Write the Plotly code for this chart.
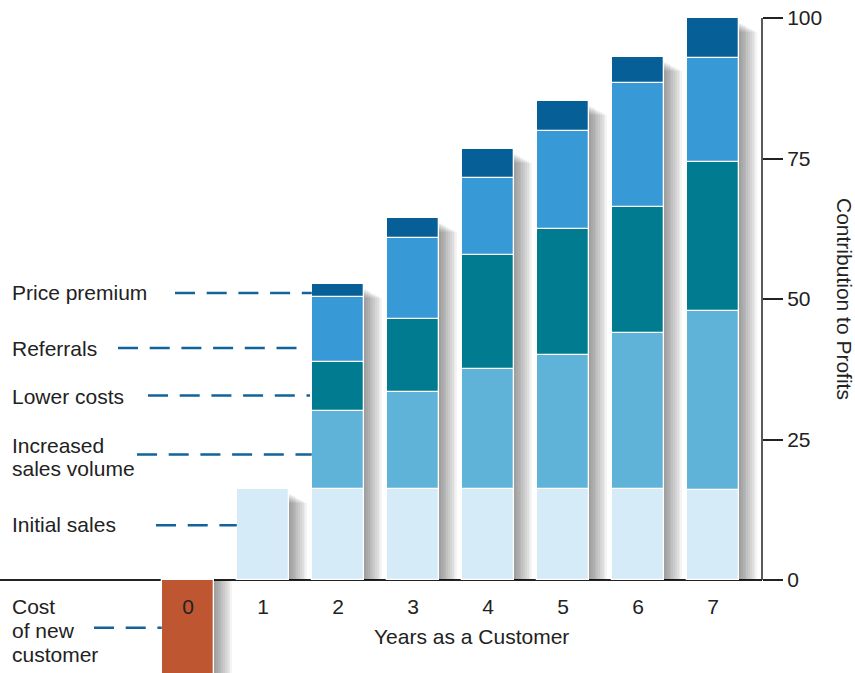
import plotly.graph_objects as go

# ---------------- data ----------------
years = [0, 1, 2, 3, 4, 5, 6, 7]
cost_years = [0]
cost_new_customer = [-20]
initial_sales = [None, 16.2, 16.2, 16.2, 16.2, 16.2, 16.2, 16.0]
increased_sales_volume = [None, None, 13.9, 17.2, 21.4, 23.8, 27.7, 31.9]
lower_costs = [None, None, 8.7, 13.0, 20.2, 22.5, 22.5, 26.5]
referrals = [None, None, 11.6, 14.5, 13.7, 17.4, 22.0, 18.4]
price_premium = [None, None, 2.3, 3.6, 5.2, 5.3, 4.6, 7.2]
y_ticks = [0, 25, 50, 75, 100]
x_title = "Years as a Customer"
y_title = "Contribution to Profits"

# ---------------- styles / geometry ----------------
W, H = 855, 673
PLOT_RIGHT = 762          # px of the right edge of plot area (y axis)
ZERO_PX, HUNDRED_PX = 580, 18
X0_PX, STEP_PX = 188, 75
FONT = "Liberation Sans, Arial, sans-serif"
FS = 21
TXT = "#222222"
DASH = "#12639a"
BAR_W = 0.7

C_COST = "#be5631"
C_INIT = "#d5ebf8"
C_ISV = "#60b3d8"
C_LC = "#017b8f"
C_REF = "#3799d6"
C_PP = "#075f98"

ppu = (ZERO_PX - HUNDRED_PX) / 100.0
x_range = [(0 - X0_PX) / STEP_PX, (PLOT_RIGHT - X0_PX) / STEP_PX]
y_range = [-(H - ZERO_PX) / ppu, 100 + HUNDRED_PX / ppu]


def xd(px):
    return (px - X0_PX) / STEP_PX


def yd(py):
    return (ZERO_PX - py) / ppu


fig = go.Figure()

# soft drop shadows (drawn first, behind bars)
totals = []
for i, yr in enumerate(years):
    vals = [s[i] for s in (initial_sales, increased_sales_volume, lower_costs, referrals, price_premium)]
    vals = [v for v in vals if v is not None]
    totals.append(sum(vals) if vals else None)
shadow_x = cost_years + [y for y, t in zip(years, totals) if t is not None]
shadow_tot = cost_new_customer + [t for t in totals if t is not None]
N_LAYERS = 10
for k in range(1, N_LAYERS + 1):
    drop = (4 + 1.0 * k) / ppu
    ys = [t - drop if t > 0 else t for t in shadow_tot]
    fig.add_trace(go.Bar(
        x=shadow_x, y=ys, base=[0] * len(shadow_x),
        width=BAR_W, offset=-BAR_W / 2 + (1.8 * k) / STEP_PX,
        marker=dict(color="rgba(0,0,0,0.045)", line=dict(width=0)),
        hoverinfo="skip", showlegend=False,
    ))

series = [
    ("Cost of new customer", cost_years, cost_new_customer, C_COST),
    ("Initial sales", years, initial_sales, C_INIT),
    ("Increased sales volume", years, increased_sales_volume, C_ISV),
    ("Lower costs", years, lower_costs, C_LC),
    ("Referrals", years, referrals, C_REF),
    ("Price premium", years, price_premium, C_PP),
]
for name, xs, ys, col in series:
    fig.add_trace(go.Bar(
        name=name, x=xs, y=ys, width=BAR_W,
        marker=dict(color=col, line=dict(color="white", width=1.3)),
        showlegend=False,
    ))

# ---------------- annotations (labels on the left) ----------------
anns = []
label_lines = [
    ("Price premium", 292.5),
    ("Referrals", 348),
    ("Lower costs", 396),
    ("Increased", 445),
    ("sales volume", 468),
    ("Initial sales", 524.3),
    ("Cost", 606),
    ("of new", 630.5),
    ("customer", 654.5),
]
for txt, py in label_lines:
    anns.append(dict(text=txt, xref="paper", x=10 / PLOT_RIGHT, xanchor="left",
                     yref="y", y=yd(py), yanchor="middle", showarrow=False,
                     font=dict(family=FONT, size=FS, color=TXT)))

anns.append(dict(text=x_title, xref="x", x=xd(471), xanchor="center",
                 yref="y", y=yd(636), yanchor="middle", showarrow=False,
                 font=dict(family=FONT, size=FS, color=TXT)))
anns.append(dict(text=y_title, xref="paper", x=845 / PLOT_RIGHT, xanchor="center",
                 yref="y", y=50, yanchor="middle", textangle=90, showarrow=False,
                 font=dict(family=FONT, size=FS, color=TXT)))

# dashed leader lines
leaders = [
    (175, BAR_W, 2, 293),
    (118, None, 300, 348),
    (148, None, 310, 395.5),
    (137, BAR_W, 2, 454.5),
    (156, BAR_W, 1, 525.3),
    (94, BAR_W, 0, 627.7),
]
shapes = []
for x0px, w, end, py in leaders:
    x1 = end - w / 2 if w is not None else xd(end)
    shapes.append(dict(type="line", xref="x", yref="y", x0=xd(x0px), x1=x1,
                       y0=yd(py), y1=yd(py),
                       line=dict(color=DASH, width=2.6, dash="20px,11.7px")))

# y axis line from 0 to 100
shapes.append(dict(type="line", xref="paper", yref="y", x0=1, x1=1, y0=0, y1=100,
                   line=dict(color=TXT, width=1.5)))

fig.update_layout(
    width=W, height=H,
    margin=dict(l=0, r=W - PLOT_RIGHT, t=0, b=0),
    paper_bgcolor="white", plot_bgcolor="white",
    barmode="relative", bargap=0,
    annotations=anns, shapes=shapes,
    font=dict(family=FONT, size=FS, color=TXT),
    xaxis=dict(range=x_range, tickvals=years, ticktext=[str(y) for y in years],
               anchor="free", position=(H - ZERO_PX) / H,
               showgrid=False, zeroline=False, showline=False,
               ticks="outside", ticklen=8, tickcolor="rgba(0,0,0,0)",
               tickfont=dict(family=FONT, size=FS, color=TXT)),
    yaxis=dict(range=y_range, side="right", tickvals=y_ticks,
               showgrid=False, zeroline=True, zerolinecolor=TXT, zerolinewidth=1.5,
               showline=False, ticks="outside", ticklen=20, tickwidth=1.5,
               tickcolor=TXT, tickfont=dict(family=FONT, size=FS, color=TXT)),
)

fig.write_html("out.html")
